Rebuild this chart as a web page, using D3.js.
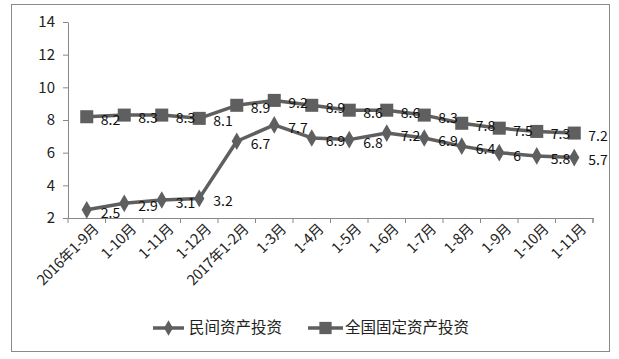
<!DOCTYPE html>
<html><head><meta charset="utf-8">
<script src="https://cdn.jsdelivr.net/npm/d3@7"></script>
<style>body{margin:0;background:#fff}</style>
</head><body>
<svg id="c" width="619" height="359"></svg>
<script>
const categories = ["2016年1-9月","1-10月","1-11月","1-12月","2017年1-2月","1-3月","1-4月","1-5月","1-6月","1-7月","1-8月","1-9月","1-10月","1-11月"];
const privateInv = [2.5,2.9,3.1,3.2,6.7,7.7,6.9,6.8,7.2,6.9,6.4,6,5.8,5.7];
const nationalInv = [8.2,8.3,8.3,8.1,8.9,9.2,8.9,8.6,8.6,8.3,7.8,7.5,7.3,7.2];
const seriesNames = ["民间资产投资","全国固定资产投资"];
const yTicks = [2,4,6,8,10,12,14];

const svg = d3.select("#c");
const font = "'Noto Sans CJK SC', 'Liberation Sans', sans-serif";
const lineColor = "#5f5f5f";
svg.append("rect").attr("x",11.5).attr("y",4.5).attr("width",598).attr("height",347)
  .attr("fill","#fff").attr("stroke","#8a8a8a").attr("stroke-width",1);

const idx = categories.map((c,i)=>i);
const x = d3.scaleBand().domain(idx).range([68,593]);
const y = d3.scaleLinear().domain([2,14]).range([218,22]);

const yAxis = svg.append("g").attr("transform","translate(68,0)")
  .call(d3.axisLeft(y).tickValues(yTicks).tickSize(5).tickSizeOuter(0));
yAxis.select(".domain").attr("stroke","#888");
yAxis.selectAll(".tick line").attr("stroke","#888");
yAxis.selectAll("text").attr("font-family",font).attr("font-size",15).attr("fill","#222").attr("dx",-5);

const xAxis = svg.append("g").attr("transform","translate(0,218)")
  .call(d3.axisBottom(x).tickSize(5).tickSizeOuter(0).tickFormat(i=>categories[i]));
xAxis.select(".domain").attr("stroke","#888");
xAxis.selectAll(".tick line").attr("stroke","#888").attr("x1",x.bandwidth()/2).attr("x2",x.bandwidth()/2);
svg.append("line").attr("x1",593).attr("x2",593).attr("y1",218).attr("y2",223).attr("stroke","#888");
svg.append("line").attr("x1",68).attr("x2",68).attr("y1",218).attr("y2",223).attr("stroke","#888");
xAxis.selectAll(".tick text").attr("font-family",font).attr("font-size",14.5).attr("fill","#222")
  .attr("text-anchor","end").attr("transform","translate(5,4) rotate(-45)").attr("dy","0.35em").attr("y",6).attr("x",0)
  .attr("letter-spacing","-0.3px");

const cx = i => x(i) + x.bandwidth()/2;
const line = d3.line().x((d,i)=>cx(i)).y(d=>y(d));

function drawSeries(vals, shape){
  svg.append("path").datum(vals).attr("d",line).attr("fill","none")
    .attr("stroke",lineColor).attr("stroke-width",3.5).attr("stroke-linejoin","round");
  const sym = shape==="diamond" ? d3.symbol().type(d3.symbolDiamond).size(90) : d3.symbol().type(d3.symbolSquare).size(170);
  svg.append("g").selectAll("path").data(vals).join("path")
    .attr("d",sym).attr("transform",(d,i)=>`translate(${cx(i)},${y(d)})`)
    .attr("fill",lineColor);
  svg.append("g").selectAll("text").data(vals).join("text")
    .attr("x",(d,i)=>cx(i)+14).attr("y",d=>y(d)+3)
    .attr("dy","0.35em").attr("font-family",font).attr("font-size",14).attr("fill","#111")
    .text(d=>d);
}
drawSeries(nationalInv,"square");
drawSeries(privateInv,"diamond");

// legend
const lg = svg.append("g");
const items = [{name:seriesNames[0],shape:"diamond",x0:153,x1:184,tx:189},{name:seriesNames[1],shape:"square",x0:308,x1:343,tx:345}];
items.forEach(it=>{
  lg.append("line").attr("x1",it.x0).attr("x2",it.x1).attr("y1",328).attr("y2",328).attr("stroke",lineColor).attr("stroke-width",3.5);
  const sym = it.shape==="diamond" ? d3.symbol().type(d3.symbolDiamond).size(70) : d3.symbol().type(d3.symbolSquare).size(150);
  lg.append("path").attr("d",sym).attr("transform",`translate(${(it.x0+it.x1)/2},328)`).attr("fill",lineColor);
  lg.append("text").attr("x",it.tx).attr("y",328).attr("dy","0.35em").attr("font-family",font).attr("font-size",15.5).attr("fill","#222").text(it.name);
});
</script>
</body></html>
